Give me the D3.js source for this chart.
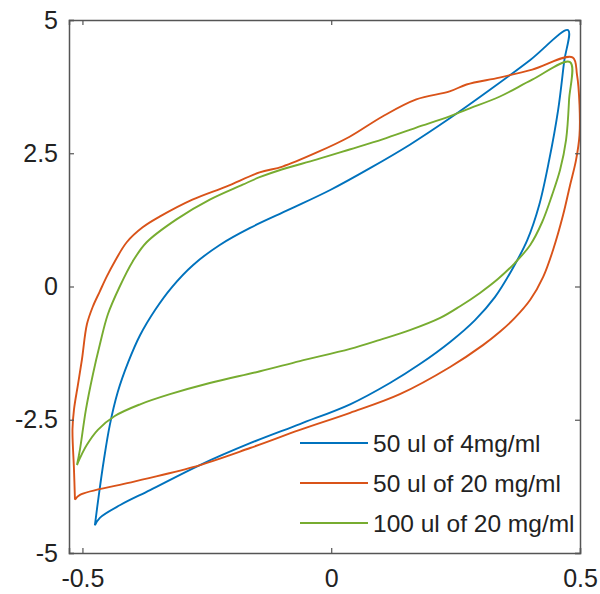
<!DOCTYPE html>
<html>
<head>
<meta charset="utf-8">
<script src="https://cdn.jsdelivr.net/npm/d3@7"></script>
<style>
  html, body { margin: 0; padding: 0; background: #fff; }
  svg { display: block; font-family: "Liberation Sans", Arial, sans-serif; }
</style>
</head>
<body>
<svg id="chart" width="600" height="594"></svg>
<script>
// ---- data ----
const seriesNames = ["50 ul of 4mg/ml", "50 ul of 20 mg/ml", "100 ul of 20 mg/ml"];

const blueX = [-0.475, -0.467, -0.457, -0.445, -0.429, -0.408, -0.384, -0.354, -0.320, -0.278, -0.224, -0.163, -0.083, -0.002, 0.078, 0.158, 0.239, 0.319, 0.400, 0.476,
               0.468, 0.456, 0.438, 0.418, 0.394, 0.363, 0.329, 0.289, 0.239, 0.179, 0.118, 0.038, -0.063, -0.163, -0.264, -0.364, -0.424, -0.465, -0.475];
const blueY = [-4.48, -3.91, -3.26, -2.60, -1.98, -1.42, -0.91, -0.44, -0.01, 0.40, 0.78, 1.10, 1.45, 1.81, 2.22, 2.66, 3.16, 3.69, 4.25, 4.81,
               4.21, 3.31, 2.37, 1.53, 0.87, 0.31, -0.20, -0.63, -1.04, -1.45, -1.81, -2.21, -2.58, -2.94, -3.35, -3.82, -4.10, -4.34, -4.48];

const orangeX = [-0.515, -0.517, -0.520, -0.517, -0.509, -0.501, -0.491, -0.479, -0.465, -0.451, -0.435, -0.411, -0.379, -0.345, -0.279, -0.210, -0.144, -0.098, -0.030, 0.037, 0.103, 0.171, 0.238, 0.272, 0.338, 0.404, 0.485,
                 0.494, 0.499, 0.499, 0.492, 0.480, 0.466, 0.446, 0.426, 0.400, 0.369, 0.339, 0.305, 0.239, 0.138, 0.038, -0.063, -0.163, -0.278, -0.410, -0.505, -0.515];
const orangeY = [-4.00, -3.43, -2.68, -2.31, -1.84, -1.37, -0.71, -0.375, -0.09, 0.19, 0.47, 0.83, 1.11, 1.31, 1.63, 1.88, 2.14, 2.25, 2.51, 2.81, 3.19, 3.51, 3.66, 3.79, 3.92, 4.07, 4.30,
                 3.97, 3.41, 2.84, 2.37, 1.90, 1.34, 0.69, 0.18, -0.25, -0.59, -0.85, -1.10, -1.51, -2.02, -2.37, -2.69, -3.03, -3.39, -3.69, -3.91, -4.00];

const greenX = [-0.511, -0.505, -0.493, -0.479, -0.465, -0.449, -0.425, -0.399, -0.371, -0.311, -0.244, -0.178, -0.144, -0.098, -0.030, 0.037, 0.103, 0.171, 0.238, 0.272, 0.338, 0.404, 0.480,
                0.478, 0.472, 0.460, 0.444, 0.424, 0.400, 0.369, 0.335, 0.299, 0.259, 0.219, 0.158, 0.098, 0.038, -0.063, -0.143, -0.244, -0.324, -0.384, -0.435, -0.469, -0.491, -0.505, -0.511];
const greenY = [-3.35, -3.06, -2.31, -1.65, -1.09, -0.525, 0.00, 0.47, 0.83, 1.26, 1.63, 1.91, 2.05, 2.20, 2.38, 2.57, 2.76, 2.98, 3.19, 3.32, 3.56, 3.88, 4.21,
                3.50, 2.75, 2.19, 1.72, 1.21, 0.78, 0.44, 0.14, -0.12, -0.37, -0.59, -0.82, -1.00, -1.17, -1.40, -1.59, -1.81, -2.02, -2.21, -2.43, -2.69, -2.97, -3.22, -3.35];

const xTicks = [-0.5, 0, 0.5];
const xTickLabels = ["-0.5", "0", "0.5"];
const yTicks = [-5, -2.5, 0, 2.5, 5];
const yTickLabels = ["-5", "-2.5", "0", "2.5", "5"];

const colors = ["#0072BD", "#D95319", "#77AC30"];

// ---- layout ----
const L = 69, R = 580, T = 20, B = 553;
const svg = d3.select("#chart");

const x = d3.scaleLinear().domain([-0.527, 0.5]).range([L, R]);
const y = d3.scaleLinear().domain([-5, 5]).range([B, T]);

const series = [
  { name: seriesNames[0], xs: blueX, ys: blueY, color: colors[0] },
  { name: seriesNames[1], xs: orangeX, ys: orangeY, color: colors[1] },
  { name: seriesNames[2], xs: greenX, ys: greenY, color: colors[2] }
];

const line = d3.line()
  .x(d => x(d[0])).y(d => y(d[1]))
  .curve(d3.curveCatmullRom.alpha(0.5));

svg.append("defs").append("clipPath").attr("id", "clip")
  .append("rect").attr("x", L).attr("y", T).attr("width", R - L + 1).attr("height", B - T);

const plot = svg.append("g").attr("clip-path", "url(#clip)");
series.forEach(s => {
  const pts = s.xs.map((v, i) => [v, s.ys[i]]);
  plot.append("path")
    .attr("d", line(pts))
    .attr("fill", "none")
    .attr("stroke", s.color)
    .attr("stroke-width", 1.9)
    .attr("stroke-linejoin", "round");
});

// ---- axes ----
const axisColor = "#555";
const fontSize = 25;

const gx = svg.append("g").attr("transform", `translate(0,${B})`)
  .call(d3.axisBottom(x).tickValues(xTicks).tickFormat((d, i) => xTickLabels[i]).tickSize(-5).tickPadding(16));
const gy = svg.append("g").attr("transform", `translate(${L},0)`)
  .call(d3.axisLeft(y).tickValues(yTicks).tickFormat((d, i) => yTickLabels[i]).tickSize(-5).tickPadding(11));
const gt = svg.append("g").attr("transform", `translate(0,${T})`)
  .call(d3.axisTop(x).tickValues(xTicks).tickFormat("").tickSize(-5));
const gr = svg.append("g").attr("transform", `translate(${R},0)`)
  .call(d3.axisRight(y).tickValues(yTicks).tickFormat("").tickSize(-5));

[gx, gy, gt, gr].forEach(g => {
  g.select(".domain").attr("stroke", axisColor).attr("stroke-width", 1.5);
  g.selectAll(".tick line").attr("stroke", axisColor).attr("stroke-width", 1.2);
  g.selectAll(".tick text").attr("fill", "#222").style("font-size", fontSize + "px")
    .style("font-family", '"Liberation Sans", Arial, sans-serif');
});

// ---- legend ----
const legY = d3.scalePoint().domain(seriesNames).range([443, 523]);
const leg = svg.append("g");
series.forEach(s => {
  const yy = legY(s.name);
  leg.append("line").attr("x1", 300).attr("x2", 368).attr("y1", yy).attr("y2", yy)
    .attr("stroke", s.color).attr("stroke-width", 1.8);
  leg.append("text").attr("x", 373).attr("y", yy).attr("dy", "0.35em")
    .attr("fill", "#222").style("font-size", "24.5px").text(s.name);
});
</script>
</body>
</html>
